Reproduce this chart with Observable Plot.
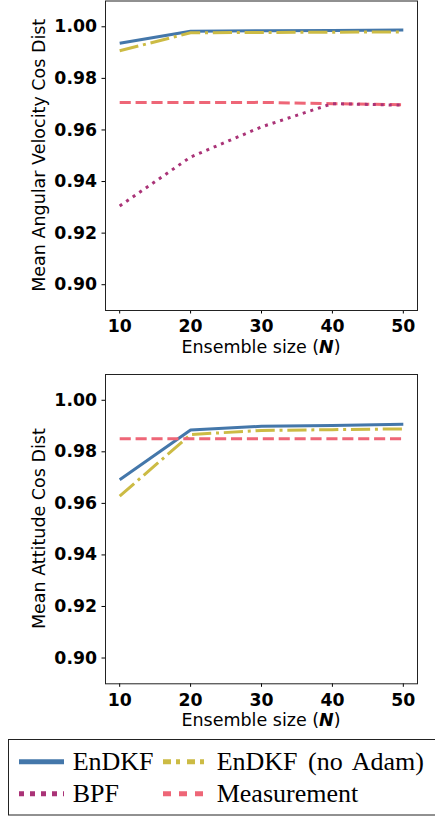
<!DOCTYPE html>
<html><head><meta charset="utf-8">
<script src="https://cdn.jsdelivr.net/npm/d3@7"></script>
<script src="https://cdn.jsdelivr.net/npm/@observablehq/plot@0.6"></script>
<style>
html,body{margin:0;padding:0;background:#fff;}
body{width:435px;height:819px;overflow:hidden;}
#chart svg{display:block;}
</style></head><body><div id="chart"></div>
<script>
// ---- data ----
const ensembleSizes = [10, 20, 30, 40, 50];
const xTicks = [10, 20, 30, 40, 50];
const yTicks = [0.90, 0.92, 0.94, 0.96, 0.98, 1.00];

// Panel 1: Mean Angular Velocity Cos Dist
const angEnDKF   = [0.9936, 0.9983, 0.9985, 0.9986, 0.9988];
const angNoAdam  = [0.9907, 0.9977, 0.9978, 0.9979, 0.9980];
const angBPF     = [0.9305, 0.9495, 0.9612, 0.9702, 0.9696];
const angMeas    = [0.9706, 0.9706, 0.9707, 0.9702, 0.9698];

// Panel 2: Mean Attitude Cos Dist
const attEnDKF   = [0.9692, 0.9885, 0.9899, 0.9902, 0.9907];
const attNoAdam  = [0.9628, 0.9867, 0.9883, 0.9886, 0.9889];
const attMeas    = [0.9851, 0.9851, 0.9851, 0.9851, 0.9851];

const seriesNames = ["EnDKF", "EnDKF (no Adam)", "BPF", "Measurement"];

// ---- styles ----
const colorOf = {"EnDKF": "#4477AA", "EnDKF (no Adam)": "#CCBB44", "BPF": "#AA3377", "Measurement": "#EE6677"};
const dashOf = {"EnDKF": null, "EnDKF (no Adam)": "19.2,4.8,3,4.8", "BPF": "3,4.95", "Measurement": "11.1,4.8"};
const legendDashOf = {"EnDKF": null, "EnDKF (no Adam)": "8,5,4,7", "BPF": "5,6", "Measurement": "8,8"};

function panel(series, ylabel, height, marginTop, marginBottom) {
  const lineMarks = series.map(([name, values]) =>
    Plot.line(ensembleSizes.map((x, i) => ({x, y: values[i]})), {
      x: "x", y: "y", stroke: colorOf[name], strokeWidth: 3,
      strokeDasharray: dashOf[name], strokeLinecap: "butt", strokeLinejoin: "round"
    })
  );
  const svg = Plot.plot({
    width: 435, height, marginLeft: 105, marginRight: 18, marginTop, marginBottom,
    style: {fontFamily: "DejaVu Sans", fontSize: "17px", color: "#000", background: "#fff"},
    x: {domain: [8, 52]},
    y: {domain: [0.89, 1.01]},
    marks: [
      Plot.axisY(yTicks, {tickSize: 3.5, tickPadding: 5, tickFormat: d3.format(".2f"), label: null, fontWeight: "bold", fontSize: 17.3}),
      Plot.axisX(xTicks, {tickSize: 3.5, tickPadding: 6, label: null, fontWeight: "bold", fontSize: 17.3}),
      ...lineMarks,
      Plot.frame({stroke: "#222", strokeWidth: 1})
    ]
  });
  const s = d3.select(svg);
  const fy = (marginTop + height - marginBottom) / 2;
  s.append("text")
    .attr("transform", `translate(45,${fy}) rotate(-90)`)
    .attr("text-anchor", "middle")
    .attr("font-family", "DejaVu Sans").attr("font-size", 17.5).attr("font-weight", "normal")
    .attr("fill", "#000")
    .text(ylabel);
  const xl = s.append("text")
    .attr("x", (105 + 435 - 18) / 2).attr("y", height - marginBottom + 42.7)
    .attr("text-anchor", "middle")
    .attr("font-family", "DejaVu Sans").attr("font-size", 17.5).attr("font-weight", "normal")
    .attr("fill", "#000");
  xl.append("tspan").text("Ensemble size (");
  xl.append("tspan").attr("font-weight", "bold").attr("font-style", "italic").text("N");
  xl.append("tspan").text(")");
  return svg;
}

const chart = document.getElementById("chart");
chart.appendChild(panel(
  [["EnDKF", angEnDKF], ["EnDKF (no Adam)", angNoAdam], ["Measurement", angMeas], ["BPF", angBPF]],
  "Mean Angular Velocity Cos Dist", 370, 0.5, 60));
chart.appendChild(panel(
  [["EnDKF", attEnDKF], ["EnDKF (no Adam)", attNoAdam], ["Measurement", attMeas]],
  "Mean Attitude Cos Dist", 360, 4, 46.7));

// ---- legend ----
const leg = d3.select(chart).append("svg").attr("width", 435).attr("height", 89).style("display", "block");
leg.append("rect").attr("x", 8.5).attr("y", 9.5).attr("width", 440).attr("height", 75.5)
  .attr("fill", "#fff").attr("stroke", "#222").attr("stroke-width", 1);
const legendItems = [
  {name: "EnDKF", col: 0, row: 0},
  {name: "BPF", col: 0, row: 1},
  {name: "EnDKF (no Adam)", col: 1, row: 0},
  {name: "Measurement", col: 1, row: 1}
];
const colX = [19, 163], textX = [72.7, 216.7], rowY = [31.7, 63.7];
for (const it of legendItems) {
  leg.append("line")
    .attr("x1", colX[it.col]).attr("x2", colX[it.col] + 45)
    .attr("y1", rowY[it.row]).attr("y2", rowY[it.row])
    .attr("stroke", colorOf[it.name]).attr("stroke-width", 5)
    .attr("stroke-dasharray", legendDashOf[it.name]);
  leg.append("text")
    .attr("x", textX[it.col]).attr("y", rowY[it.row] + 8.5)
    .attr("font-family", "Liberation Serif").attr("font-size", 26)
    .attr("word-spacing", "4px")
    .attr("fill", "#000")
    .text(it.name);
}
</script>
</body></html>
